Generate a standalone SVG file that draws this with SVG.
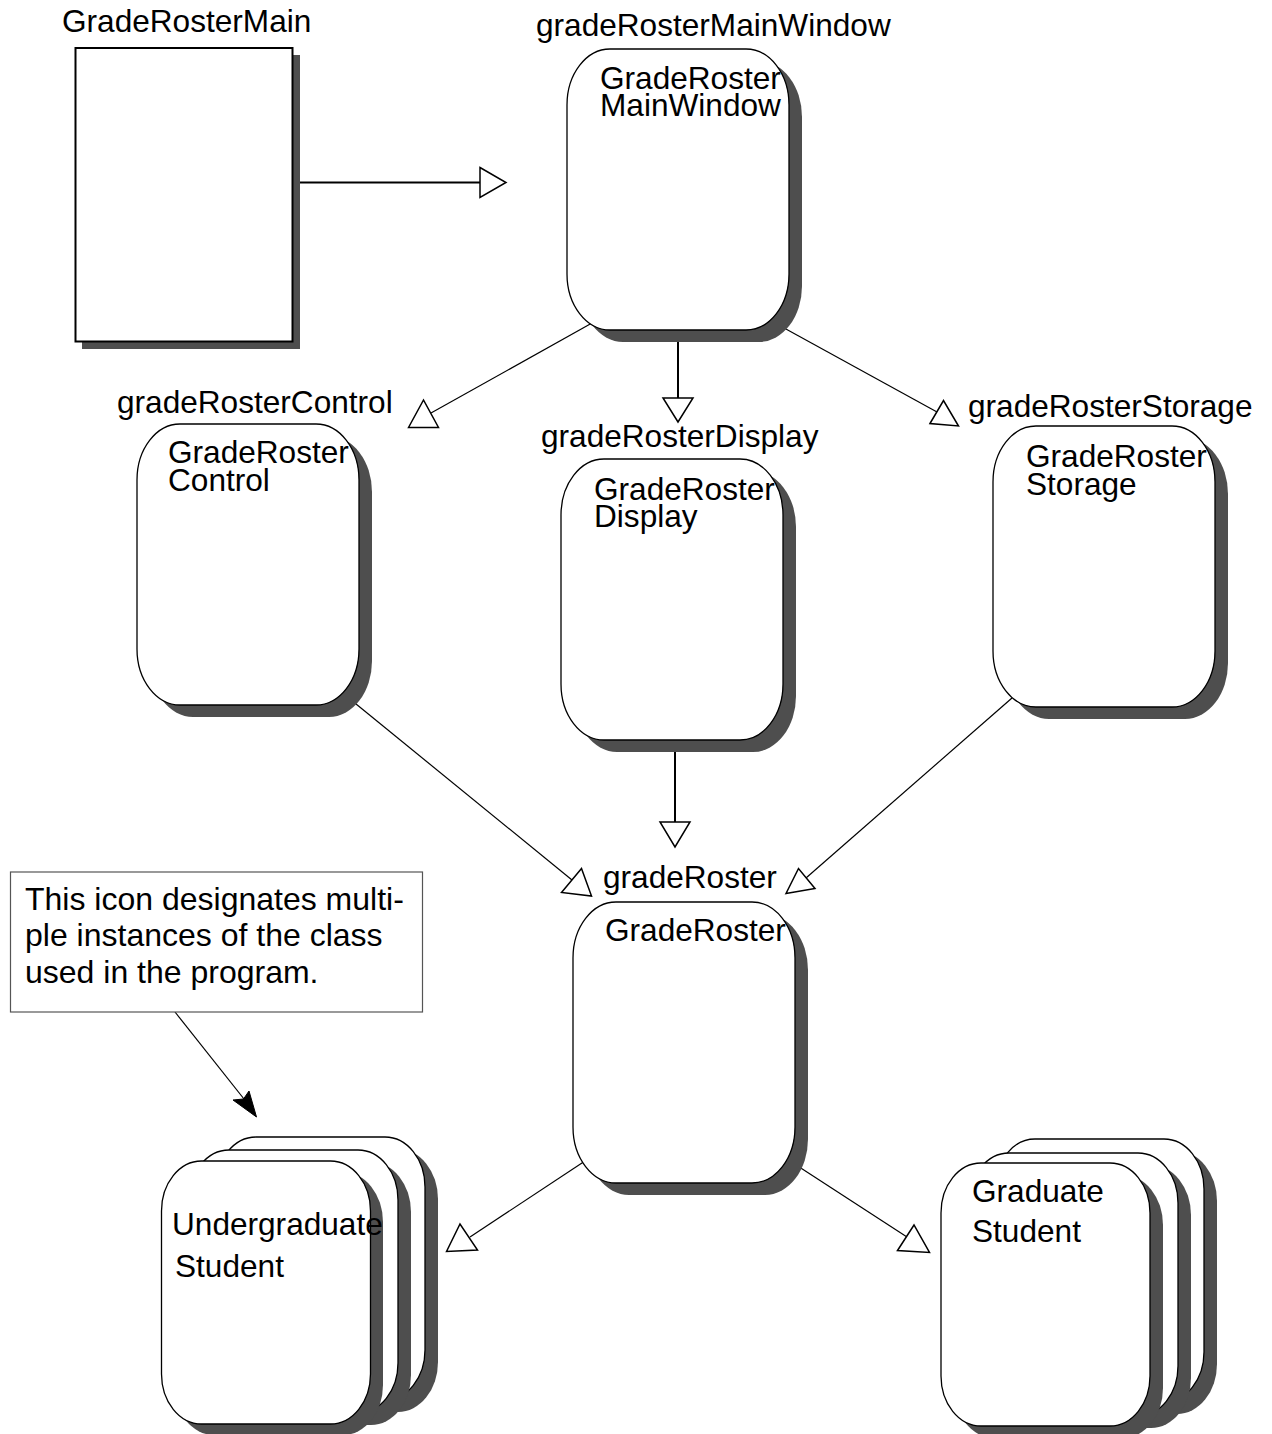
<svg xmlns="http://www.w3.org/2000/svg" xmlns:xlink="http://www.w3.org/1999/xlink" width="1272" height="1434" viewBox="0 0 1272 1434">
  <style>
    text { font-family: "Liberation Sans", Arial, Helvetica, sans-serif; font-size: 31.6px; fill: #000; }
    .note-text { font-size: 32px; }
    .shadow { fill: #4e4e4e; stroke: none; }
    .body { fill: #fff; stroke: #000; stroke-width: 1.3; }
    .main-body { fill: #fff; stroke: #000; stroke-width: 2; }
    .link { stroke: #000; stroke-width: 1.2; fill: none; }
    .link-bold { stroke: #000; stroke-width: 2; fill: none; }
    .head { fill: #fff; stroke: #000; stroke-width: 1.5; stroke-linejoin: miter; }
    .note-box { fill: #fff; stroke: #555; stroke-width: 1.2; }
  </style>
  <defs>
    <!-- class icon: tall rounded capsule -->
    <rect id="capsule" width="222" height="281" rx="43" ry="56"/>
    <!-- one card of a multi-instance stack -->
    <rect id="card" width="209" height="263" rx="40" ry="50"/>
  </defs>

  <rect width="1272" height="1434" fill="#fff"/>

  <!-- connectors -->
  <g id="connectors">
    <line class="link-bold" x1="300" y1="182.5" x2="480" y2="182.5"/>
    <polygon class="head" points="480,167.5 506,182.5 480,197.5"/>

    <line class="link" x1="592" y1="323" x2="431" y2="413"/>
    <polygon class="head" points="408.5,427.5 423.5,400 438.5,427.5"/>

    <line class="link-bold" x1="678" y1="337" x2="678" y2="398"/>
    <polygon class="head" points="663,398 693,398 678,422"/>

    <line class="link" x1="775" y1="323" x2="937" y2="412"/>
    <polygon class="head" points="930,423.5 943.5,400.5 958.5,426"/>

    <line class="link" x1="345" y1="695" x2="572" y2="880"/>
    <polygon class="head" points="561.5,892.5 581.5,868.5 591.5,896"/>

    <line class="link-bold" x1="675" y1="751" x2="675" y2="822"/>
    <polygon class="head" points="660,822 690,822 675,847"/>

    <line class="link" x1="1012" y1="698" x2="806" y2="878"/>
    <polygon class="head" points="786,893.5 798.5,868.5 815,888.5"/>

    <line class="link" x1="585" y1="1161" x2="470" y2="1237"/>
    <polygon class="head" points="446.5,1251.5 460,1224 477.5,1250"/>

    <line class="link" x1="790" y1="1161" x2="907" y2="1237"/>
    <polygon class="head" points="897.5,1250.5 914,1225 929.5,1252.5"/>

    <!-- note pointer -->
    <line class="link" x1="175" y1="1012" x2="244" y2="1099"/>
    <path d="M233,1100 L256.5,1117 L249,1091 L243.5,1099 Z" fill="#000" stroke="#000" stroke-width="1"/>
  </g>

  <!-- main program -->
  <g id="node-main">
    <rect class="shadow" x="82" y="55" width="218" height="294"/>
    <rect class="main-body" x="75.5" y="48" width="217" height="293.5"/>
    <text x="62" y="32">GradeRosterMain</text>
  </g>

  <g id="node-main-window">
    <use xlink:href="#capsule" class="shadow" x="580" y="61"/>
    <use xlink:href="#capsule" class="body" x="567" y="49"/>
    <text x="536" y="36">gradeRosterMainWindow</text>
    <text x="600" y="89">GradeRoster<tspan x="600" dy="27">MainWindow</tspan></text>
  </g>

  <g id="node-control">
    <use xlink:href="#capsule" class="shadow" x="150" y="436"/>
    <use xlink:href="#capsule" class="body" x="137" y="424"/>
    <text x="117" y="413">gradeRosterControl</text>
    <text x="168" y="463">GradeRoster<tspan x="168" dy="28">Control</tspan></text>
  </g>

  <g id="node-display">
    <use xlink:href="#capsule" class="shadow" x="574" y="471"/>
    <use xlink:href="#capsule" class="body" x="561" y="459"/>
    <text x="541" y="447">gradeRosterDisplay</text>
    <text x="594" y="500">GradeRoster<tspan x="594" dy="27">Display</tspan></text>
  </g>

  <g id="node-storage">
    <use xlink:href="#capsule" class="shadow" x="1006" y="438"/>
    <use xlink:href="#capsule" class="body" x="993" y="426"/>
    <text x="968" y="417">gradeRosterStorage</text>
    <text x="1026" y="467">GradeRoster<tspan x="1026" dy="28">Storage</tspan></text>
  </g>

  <g id="node-grade-roster">
    <use xlink:href="#capsule" class="shadow" x="586" y="914"/>
    <use xlink:href="#capsule" class="body" x="573" y="902"/>
    <text x="603" y="888">gradeRoster</text>
    <text x="605" y="941">GradeRoster</text>
  </g>

  <!-- multi-instance stacks -->
  <g id="node-undergraduate">
    <use xlink:href="#card" class="shadow" x="229" y="1149"/>
    <use xlink:href="#card" class="body" x="216" y="1137"/>
    <use xlink:href="#card" class="shadow" x="202" y="1162"/>
    <use xlink:href="#card" class="body" x="189" y="1150"/>
    <use xlink:href="#card" class="shadow" x="174" y="1172"/>
    <use xlink:href="#card" class="body" x="161.5" y="1161"/>
    <text x="172" y="1235">Undergraduate</text>
    <text x="175" y="1277">Student</text>
  </g>

  <g id="node-graduate">
    <use xlink:href="#card" class="shadow" x="1008" y="1151"/>
    <use xlink:href="#card" class="body" x="995" y="1139"/>
    <use xlink:href="#card" class="shadow" x="982" y="1165"/>
    <use xlink:href="#card" class="body" x="969" y="1153"/>
    <use xlink:href="#card" class="shadow" x="954" y="1175"/>
    <use xlink:href="#card" class="body" x="941" y="1163"/>
    <text x="972" y="1202">Graduate</text>
    <text x="972" y="1242">Student</text>
  </g>

  <!-- explanatory note -->
  <g id="note">
    <rect class="note-box" x="10.5" y="872" width="412" height="140"/>
    <text class="note-text" x="25" y="909.5">This icon designates multi-</text>
    <text class="note-text" x="25" y="946">ple instances of the class</text>
    <text class="note-text" x="25" y="982.5">used in the program.</text>
  </g>
</svg>
